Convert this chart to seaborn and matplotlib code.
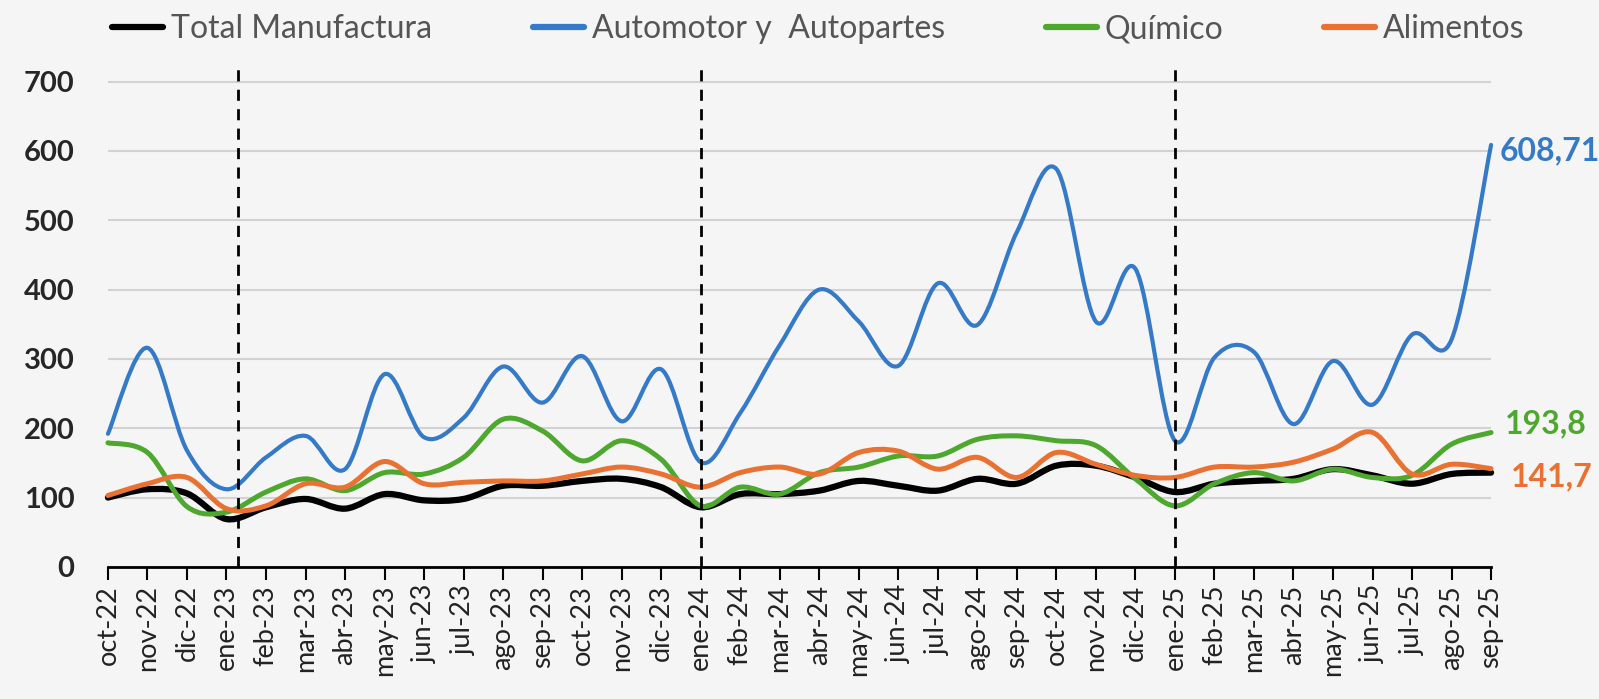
import numpy as np
import pandas as pd
import matplotlib.pyplot as plt
import seaborn as sns
from matplotlib.path import Path
from matplotlib.patches import PathPatch
from matplotlib.lines import Line2D

# Data
months = ['oct-22', 'nov-22', 'dic-22', 'ene-23', 'feb-23', 'mar-23', 'abr-23', 'may-23',
          'jun-23', 'jul-23', 'ago-23', 'sep-23', 'oct-23', 'nov-23', 'dic-23', 'ene-24',
          'feb-24', 'mar-24', 'abr-24', 'may-24', 'jun-24', 'jul-24', 'ago-24', 'sep-24',
          'oct-24', 'nov-24', 'dic-24', 'ene-25', 'feb-25', 'mar-25', 'abr-25', 'may-25',
          'jun-25', 'jul-25', 'ago-25', 'sep-25']
total = [100, 112, 106, 69, 86, 98, 84, 105, 96, 98, 117, 117, 124, 127, 115, 86,
         105, 105, 110, 124, 117, 110, 127, 120, 146, 146, 129, 108, 120, 124, 127, 141,
         132, 120, 134, 136]
automotor = [192, 316, 168, 112, 158, 189, 141, 278, 187, 215, 289, 237, 304, 210, 285, 151,
             222, 320, 400, 354, 290, 409, 349, 483, 574, 354, 430, 182, 302, 310, 206, 297,
             234, 335, 328, 608.71]
quimico = [179, 165, 87, 79, 108, 127, 110, 136, 134, 158, 213, 196, 153, 182, 155, 88,
           115, 105, 136, 144, 160, 160, 184, 189, 182, 175, 127, 88, 120, 136, 124, 141,
           129, 132, 177, 193.8]
alimentos = [103, 120, 129, 84, 88, 120, 115, 152, 120, 122, 124, 124, 134, 144, 134, 115,
             136, 144, 134, 165, 167, 141, 158, 129, 165, 148, 132, 129, 144, 144, 151, 170,
             194, 134, 148, 141.7]
year_breaks = [3.3, 15, 27]

series = {
    'Total Manufactura': (total, '#000000', 4.5),
    'Automotor y  Autopartes': (automotor, '#3579c9', 3.0),
    'Químico': (quimico, '#4ea72e', 3.6),
    'Alimentos': (alimentos, '#e97132', 3.6),
}


def smooth_path(x, y, t=1 / 6):
    # Bezier path through the points, Excel-style smoothed line
    pts = np.column_stack([x, y]).astype(float)
    ext = np.vstack([pts[0], pts, pts[-1]])
    verts = [pts[0]]
    codes = [Path.MOVETO]
    for i in range(len(pts) - 1):
        p0, p1, p2, p3 = ext[i], ext[i + 1], ext[i + 2], ext[i + 3]
        verts += [p1 + (p2 - p0) * t, p2 - (p3 - p1) * t, p2]
        codes += [Path.CURVE4] * 3
    return Path(verts, codes)


sns.set_theme(style="white")
plt.rcParams['font.family'] = ['Lato', 'DejaVu Sans']

fig = plt.figure(figsize=(15.99, 6.99), dpi=100, facecolor='#f5f5f5')
ax = fig.add_axes([0.0675, 0.189, 0.865, 0.719])
ax.set_facecolor('none')

x = np.arange(len(months))
for name, (vals, color, lw) in series.items():
    patch = PathPatch(smooth_path(x, vals), facecolor='none', edgecolor=color,
                      linewidth=lw, capstyle='round', joinstyle='round', clip_on=False, zorder=3)
    ax.add_patch(patch)

for xb in year_breaks:
    ax.axvline(xb, color='black', linestyle=(0, (4, 3)), linewidth=2, zorder=4)

ax.set_xlim(0, len(months) - 1)
ax.set_ylim(0, 725)
ax.set_yticks(range(0, 701, 100))
ax.set_xticks(x)
ax.set_xticklabels(months, rotation=90, fontsize=19.5, color='#222222')
ax.tick_params(axis='y', labelsize=21, length=0, pad=24)
for lab in ax.get_yticklabels():
    lab.set_fontweight('bold')
ax.tick_params(axis='x', length=9, width=1.5, color='black', direction='out', pad=4, bottom=True)

ax.grid(axis='y', color='#d2d2d2', linewidth=1.5)
ax.grid(axis='x', visible=False)
for side in ['top', 'right', 'left']:
    ax.spines[side].set_visible(False)
ax.spines['bottom'].set_color('black')
ax.spines['bottom'].set_linewidth(2)

# end value labels
ax.annotate('608,71', (35, automotor[-1]), xytext=(6, -4), textcoords='offset points',
            color='#3579c9', fontsize=23, fontweight='bold', va='center', annotation_clip=False)
ax.annotate('193,8', (35, quimico[-1]), xytext=(10, 6), textcoords='offset points',
            color='#4ea72e', fontsize=23, fontweight='bold', va='center', annotation_clip=False)
ax.annotate('141,7', (35, alimentos[-1]), xytext=(14, -6), textcoords='offset points',
            color='#e97132', fontsize=23, fontweight='bold', va='center', annotation_clip=False)

handles = [Line2D([0], [0], color=c, linewidth=max(lw, 4.5), solid_capstyle='round')
           for (_, c, lw) in series.values()]
fig.legend(handles, list(series.keys()), loc='upper left', bbox_to_anchor=(0.055, 1.014),
           ncol=4, frameon=False, fontsize=23, handlelength=1.6, handletextpad=0.25,
           columnspacing=3.15, borderpad=0.25, labelcolor='#555555')

fig.savefig('out.png', dpi=100, facecolor=fig.get_facecolor())
